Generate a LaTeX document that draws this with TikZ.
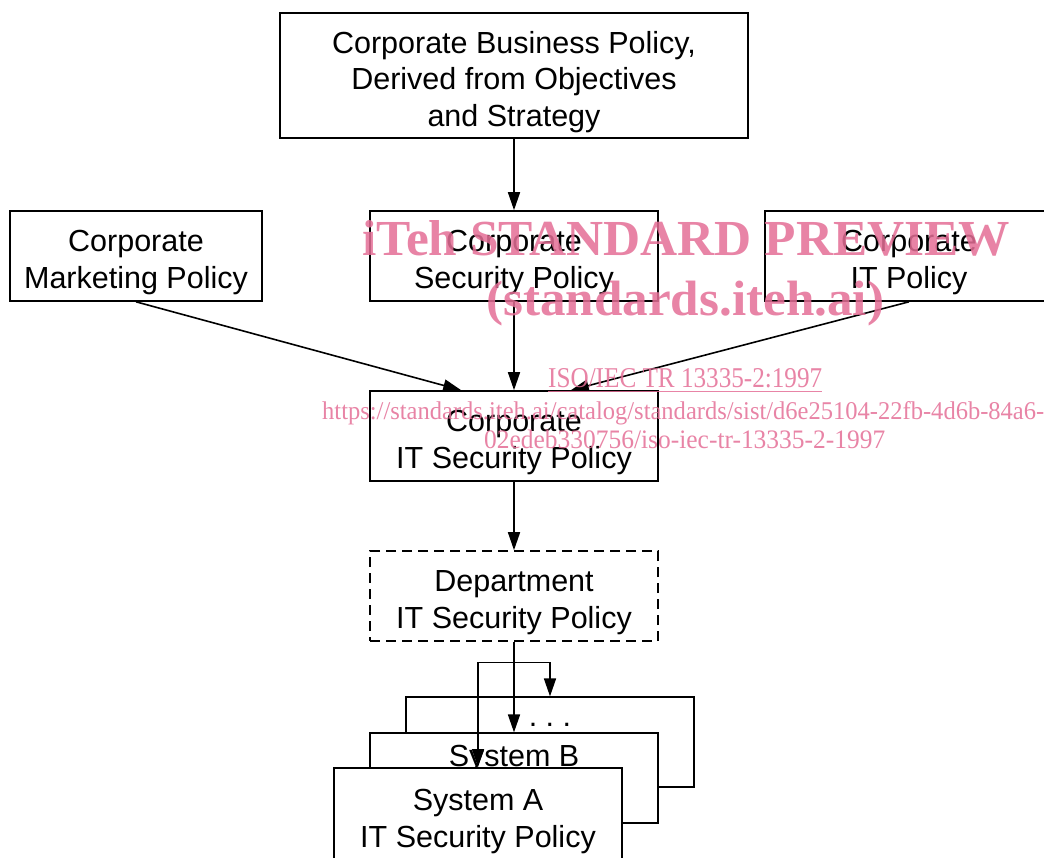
\documentclass[tikz,border=0pt]{standalone}
\usepackage{fontspec}
\setmainfont{Liberation Sans}
\newfontfamily\wmfont{Liberation Serif}
\usetikzlibrary{arrows.meta,calc}
\definecolor{wmpink}{RGB}{228,110,150}
% strut that gives the first line of a box a little more headroom
\newcommand\topstrut{\rule{0pt}{34.5pt}}
\begin{document}
\begin{tikzpicture}[x=1pt,y=-1pt,
  box/.style={draw=black,line width=1.6pt,fill=white,inner sep=0pt,align=center,
    font=\fontsize{30.5}{36.5}\selectfont},
  thinbox/.style={draw=black,line width=1.2pt,fill=white,inner sep=0pt},
  txt/.style={inner sep=0pt,font=\fontsize{30.5}{36.5}\selectfont},
  flow/.style={line width=1.6pt,-{Triangle[length=18pt,width=12pt]}},
  wm/.style={inner sep=0pt,text=wmpink,opacity=0.85,font=\wmfont,anchor=base west}]
\useasboundingbox (0,0) rectangle (1044,857);
\clip (0,0) rectangle (1044,857);

% policy hierarchy
\node[box,minimum width=468,minimum height=125] (biz) at (514,75.5)
  {\topstrut Corporate Business Policy,\\Derived from Objectives\\and Strategy};
\node[box,minimum width=252,minimum height=90] (mkt) at (136,256)
  {\topstrut Corporate\\Marketing Policy};
\node[box,minimum width=288,minimum height=90] (sec) at (514,256)
  {\topstrut Corporate\\Security Policy};
\node[box,minimum width=288,minimum height=90] (itp) at (909,256)
  {\topstrut Corporate\\IT Policy};
\node[box,minimum width=288,minimum height=90] (citsp) at (514,436)
  {\topstrut Corporate\\IT Security Policy};
\node[box,dash pattern=on 10pt off 6pt,minimum width=288,minimum height=90] (dept) at (514,596)
  {\topstrut Department\\IT Security Policy};

% stack of system policies
\node[thinbox,minimum width=288,minimum height=90] (back) at (550,742) {};
\node[txt] (dots) at (550,725) {.\ .\ .};
\node[thinbox,minimum width=288,minimum height=90] (sysB) at (514,778) {};
\node[txt] (sysBtxt) at (514,759) {System B};
\node[box,line width=2pt,minimum width=288,minimum height=94] (sysA) at (478,815)
  {\topstrut System A\\IT Security Policy};

% connectors
\draw[flow] (biz) -- (sec);
\draw[flow] (sec) -- (citsp);
\draw[flow] (mkt.south) -- ($(citsp.north west)+(92,0)$);
\draw[flow] (itp.south) -- ($(citsp.north east)+(-88,0)$);
\draw[flow] (citsp) -- (dept);
\draw[flow] (dept) -- (sysB);
\coordinate (split) at ($(dept.south)+(0,20.5)$);
\draw[flow] (split) -| (sysA.north);
\draw[flow] (split) -| (back.north);

% watermark
\node[wm] (wm1) at (362,255) {\resizebox{648pt}{35pt}{\bfseries iTeh STANDARD PREVIEW}};
\node[wm] (wm2) at (486,315) {\resizebox*{398pt}{45pt}{\bfseries (standards.iteh.ai)}};
\node[wm] (wm3) at (548,387) {\resizebox{274pt}{19pt}{\underline{ISO/IEC TR 13335-2:1997}}};
\node[wm] (wm4) at (322,419) {\resizebox{722pt}{18pt}{https://standards.iteh.ai/catalog/standards/sist/d6e25104-22fb-4d6b-84a6-}};
\node[wm] (wm5) at (484,448) {\resizebox{401pt}{18.5pt}{02edeb330756/iso-iec-tr-13335-2-1997}};
\end{tikzpicture}
\end{document}
